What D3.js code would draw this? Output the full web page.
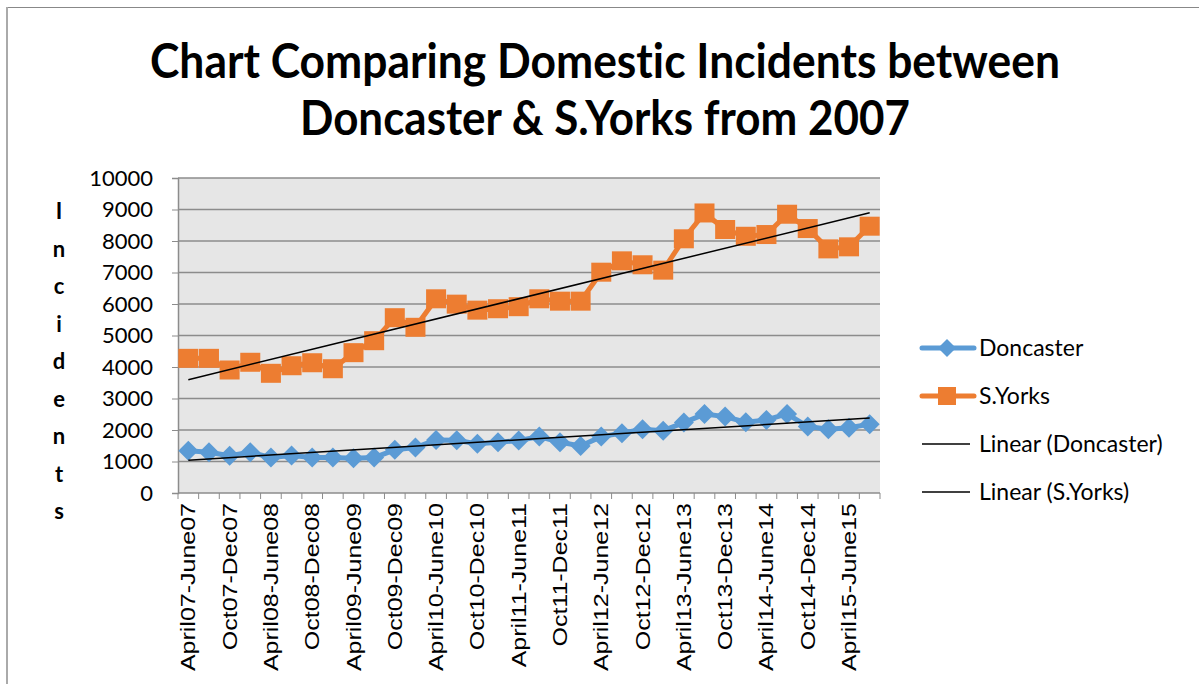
<!DOCTYPE html>
<html>
<head>
<meta charset="utf-8">
<script src="https://cdn.jsdelivr.net/npm/d3@7"></script>
<style>
  body { margin: 0; background: #fff; }
  svg { display: block; }
  text { font-variant-ligatures: none; }
</style>
</head>
<body>
<svg id="chart"></svg>
<script>
// quarter labels (every other one is shown on the axis)
const quarters = [
  "April07-June07", "July07-Sept07", "Oct07-Dec07", "Jan08-March08",
  "April08-June08", "July08-Sept08", "Oct08-Dec08", "Jan09-March09",
  "April09-June09", "July09-Sept09", "Oct09-Dec09", "Jan10-March10",
  "April10-June10", "July10-Sept10", "Oct10-Dec10", "Jan11-March11",
  "April11-June11", "July11-Sept11", "Oct11-Dec11", "Jan12-March12",
  "April12-June12", "July12-Sept12", "Oct12-Dec12", "Jan13-March13",
  "April13-June13", "July13-Sept13", "Oct13-Dec13", "Jan14-March14",
  "April14-June14", "July14-Sept14", "Oct14-Dec14", "Jan15-March15",
  "April15-June15", "July15-Sept15"
];

const doncaster = [
  1340, 1295, 1180, 1295, 1125, 1190, 1125, 1125, 1100, 1125,
  1370, 1445, 1685, 1675, 1560, 1610, 1665, 1790, 1610, 1495,
  1790, 1900, 2025, 1980, 2235, 2505, 2425, 2245, 2320, 2510,
  2110, 2025, 2075, 2185
];

const sYorks = [
  4275, 4275, 3905, 4150, 3800, 4040, 4135, 3945, 4455, 4835,
  5565, 5260, 6165, 5995, 5805, 5850, 5915, 6165, 6090, 6090,
  7010, 7370, 7245, 7075, 8070, 8890, 8365, 8150, 8205, 8850,
  8395, 7750, 7815, 8470
];

const yTicks = [0, 1000, 2000, 3000, 4000, 5000, 6000, 7000, 8000, 9000, 10000];
const titleLines = ["Chart Comparing Domestic Incidents between", "Doncaster & S.Yorks from 2007"];
const yTitle = "Incidents";

const blue = "#5b9bd5";
const orange = "#ed7d31";

const width = 1199, height = 684;
const plot = { left: 178, right: 880, top: 178, bottom: 493 };

const svg = d3.select("#chart")
    .attr("width", width)
    .attr("height", height)
    .style("font-family", "Lato, 'Open Sans', sans-serif");

// outer frame (only top and left edges are visible)
svg.append("line").attr("x1", 7).attr("x2", width).attr("y1", 7.5).attr("y2", 7.5)
    .attr("stroke", "#888").attr("stroke-width", 1);
svg.append("line").attr("x1", 7).attr("x2", 7).attr("y1", 7).attr("y2", height)
    .attr("stroke", "#aaa").attr("stroke-width", 2);

// title
svg.selectAll(".title")
    .data(titleLines)
    .join("text")
    .attr("class", "title")
    .attr("x", 605)
    .attr("y", (d, i) => 78 + i * 57)
    .attr("text-anchor", "middle")
    .attr("font-size", 48)
    .attr("font-weight", "bold")
    .attr("textLength", (d, i) => i === 0 ? 910 : 610)
    .attr("lengthAdjust", "spacingAndGlyphs")
    .text(d => d);

const x = d3.scaleBand().domain(quarters).range([plot.left, plot.right]);
const y = d3.scaleLinear().domain([0, 10000]).range([plot.bottom, plot.top]);
const cx = d => x(d) + x.bandwidth() / 2;

// plot background
svg.append("rect")
    .attr("x", plot.left).attr("y", plot.top)
    .attr("width", plot.right - plot.left)
    .attr("height", plot.bottom - plot.top)
    .attr("fill", "#e6e6e6");

// gridlines
svg.append("g")
    .selectAll("line")
    .data(yTicks.slice(1))
    .join("line")
    .attr("x1", plot.left).attr("x2", plot.right)
    .attr("y1", d => y(d)).attr("y2", d => y(d))
    .attr("stroke", "#8c8c8c").attr("stroke-width", 1.5);

// y axis
const yAxis = svg.append("g")
    .attr("transform", `translate(${plot.left},0)`)
    .call(d3.axisLeft(y).tickValues(yTicks).tickSize(6).tickPadding(19).tickFormat(d3.format("d")));
yAxis.select(".domain").attr("stroke", "#8c8c8c").attr("stroke-width", 1.5);
yAxis.selectAll(".tick line").attr("stroke", "#8c8c8c");
yAxis.selectAll(".tick text")
    .attr("font-size", 22)
    .attr("font-family", "Lato, sans-serif")
    .attr("fill", "#000");

// x axis: ticks at category edges
const xAxisG = svg.append("g");
xAxisG.append("line")
    .attr("x1", plot.left).attr("x2", plot.right)
    .attr("y1", plot.bottom).attr("y2", plot.bottom)
    .attr("stroke", "#8c8c8c").attr("stroke-width", 1.5);
xAxisG.selectAll(".xt")
    .data(quarters.concat([null]))
    .join("line")
    .attr("class", "xt")
    .attr("x1", (d, i) => plot.left + i * x.bandwidth())
    .attr("x2", (d, i) => plot.left + i * x.bandwidth())
    .attr("y1", plot.bottom).attr("y2", plot.bottom + 6)
    .attr("stroke", "#8c8c8c");
xAxisG.selectAll(".xl")
    .data(quarters.filter((d, i) => i % 2 === 0))
    .join("text")
    .attr("class", "xl")
    .attr("transform", d => `translate(${cx(d) + 7},503) scale(1,1.25) rotate(-90)`)
    .attr("text-anchor", "end")
    .attr("font-family", "'Liberation Sans', Arial, sans-serif")
    .attr("font-size", 20)
    .text(d => d);

// y title, one letter per row
svg.append("g")
    .selectAll("text")
    .data(yTitle.split(""))
    .join("text")
    .attr("x", 59)
    .attr("y", (d, i) => 219 + i * 37.5)
    .attr("text-anchor", "middle")
    .attr("font-size", 22)
    .attr("font-weight", "bold")
    .text(d => d);

// linear trend lines
function trend(vals) {
  const n = vals.length;
  const xs = d3.range(1, n + 1);
  const mx = d3.mean(xs), my = d3.mean(vals);
  const b = d3.sum(xs, (v, i) => (v - mx) * (vals[i] - my)) / d3.sum(xs, v => (v - mx) ** 2);
  const a = my - b * mx;
  return [{ q: quarters[0], v: a + b }, { q: quarters[n - 1], v: a + b * n }];
}

const line = d3.line().x(d => cx(d.q)).y(d => y(d.v));
const seriesPts = vals => vals.map((v, i) => ({ q: quarters[i], v: v }));

// Doncaster
svg.append("path")
    .datum(seriesPts(doncaster))
    .attr("d", line)
    .attr("fill", "none").attr("stroke", blue).attr("stroke-width", 5)
    .attr("stroke-linejoin", "round");
svg.append("g").selectAll("path")
    .data(seriesPts(doncaster))
    .join("path")
    .attr("transform", d => `translate(${cx(d.q)},${y(d.v)})`)
    .attr("d", "M0,-10L10,0L0,10L-10,0Z")
    .attr("fill", blue);

// S.Yorks
svg.append("path")
    .datum(seriesPts(sYorks))
    .attr("d", line)
    .attr("fill", "none").attr("stroke", orange).attr("stroke-width", 5)
    .attr("stroke-linejoin", "round");
svg.append("g").selectAll("rect")
    .data(seriesPts(sYorks))
    .join("rect")
    .attr("x", d => cx(d.q) - 10).attr("y", d => y(d.v) - 9.5)
    .attr("width", 20).attr("height", 19)
    .attr("fill", orange);

svg.append("path").datum(trend(doncaster)).attr("d", line)
    .attr("fill", "none").attr("stroke", "#000").attr("stroke-width", 1.5);
svg.append("path").datum(trend(sYorks)).attr("d", line)
    .attr("fill", "none").attr("stroke", "#000").attr("stroke-width", 1.5);

// legend
const legendItems = [
  { name: "Doncaster", color: blue, marker: "diamond", w: 5 },
  { name: "S.Yorks", color: orange, marker: "square", w: 5 },
  { name: "Linear (Doncaster)", color: "#000", marker: null, w: 1.5 },
  { name: "Linear (S.Yorks)", color: "#000", marker: null, w: 1.5 }
];
const lg = svg.append("g")
    .selectAll("g")
    .data(legendItems)
    .join("g")
    .attr("transform", (d, i) => `translate(0,${348 + i * 48})`);
lg.append("line")
    .attr("x1", 922).attr("x2", d => d.marker ? 974 : 970)
    .attr("y1", 0).attr("y2", 0)
    .attr("stroke", d => d.color).attr("stroke-width", d => d.w)
    .attr("stroke-linecap", d => d.marker ? "round" : "butt");
lg.filter(d => d.marker === "diamond").append("path")
    .attr("d", "M947,-9L956,0L947,9L938,0Z").attr("fill", blue);
lg.filter(d => d.marker === "square").append("rect")
    .attr("x", 938).attr("y", -9).attr("width", 18).attr("height", 18).attr("fill", orange);
lg.append("text")
    .attr("x", 979).attr("y", 0).attr("dy", "0.35em")
    .attr("font-size", 23)
    .text(d => d.name);
</script>
</body>
</html>
